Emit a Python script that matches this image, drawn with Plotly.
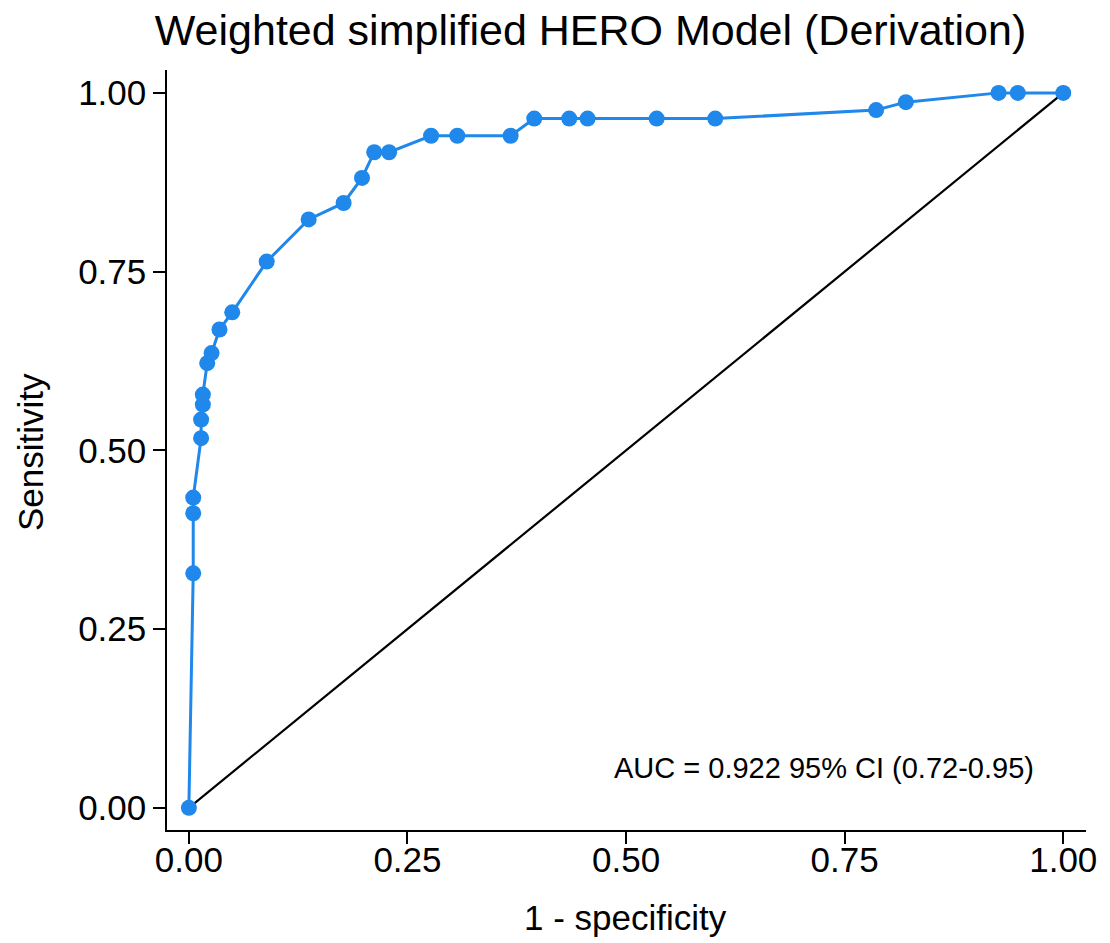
import plotly.graph_objects as go

# ROC curve points
fpr = [0.0, 0.005, 0.005, 0.005, 0.014, 0.014, 0.016, 0.016, 0.021, 0.026,
       0.035, 0.0496, 0.089, 0.137, 0.177, 0.198, 0.212, 0.229, 0.277, 0.307,
       0.368, 0.395, 0.435, 0.456, 0.535, 0.602, 0.786, 0.820, 0.926, 0.948, 1.0]
sensitivity = [0.0, 0.328, 0.412, 0.434, 0.517, 0.543, 0.564, 0.578, 0.622, 0.636,
               0.669, 0.693, 0.764, 0.823, 0.846, 0.881, 0.917, 0.917, 0.940, 0.940,
               0.940, 0.964, 0.964, 0.964, 0.964, 0.964, 0.976, 0.987, 1.0, 1.0, 1.0]

ref_x = [0, 1]
ref_y = [0, 1]

tick_vals = [0, 0.25, 0.5, 0.75, 1.0]
tick_text = ["0.00", "0.25", "0.50", "0.75", "1.00"]

title_text = "Weighted simplified HERO Model (Derivation)"
x_title = "1 - specificity"
y_title = "Sensitivity"
auc_text = "AUC = 0.922 95% CI (0.72-0.95)"

FONT = "Liberation Sans, Arial, Helvetica, sans-serif"
BLUE = "#1f88ea"

fig = go.Figure()
fig.add_trace(go.Scatter(x=ref_x, y=ref_y, mode="lines",
                         line=dict(color="black", width=2.2), hoverinfo="skip"))
fig.add_trace(go.Scatter(x=fpr, y=sensitivity, mode="lines+markers",
                         line=dict(color=BLUE, width=3),
                         marker=dict(color=BLUE, size=16)))

axis_common = dict(
    showgrid=False, zeroline=False, showline=True, linecolor="black", linewidth=1.5,
    ticks="outside", ticklen=12, tickwidth=1.5, tickcolor="black",
    tickvals=tick_vals, ticktext=tick_text, automargin=False,
    tickfont=dict(family=FONT, size=35, color="black"),
)

fig.update_layout(
    width=1110, height=943,
    paper_bgcolor="white", plot_bgcolor="white",
    showlegend=False,
    margin=dict(l=167, r=24, t=70, b=113),
    title=dict(text=title_text, x=0.532, xanchor="center", y=0.968, yanchor="middle",
               font=dict(family=FONT, size=43, color="black")),
    xaxis=dict(range=[-0.025, 1.026], ticklabelstandoff=-14, **axis_common),
    yaxis=dict(range=[-0.031, 1.032], **axis_common),
    annotations=[
        dict(text=auc_text, x=0.7265, y=0.056, xref="x", yref="y",
             xanchor="center", yanchor="middle", showarrow=False,
             font=dict(family=FONT, size=29, color="black")),
        dict(text=x_title, x=0.5, y=0.0, xref="paper", yref="paper",
             showarrow=False, xanchor="center", yanchor="middle",
             font=dict(family=FONT, size=35, color="black")),
        dict(text=y_title, x=0.0, y=0.5, xref="paper", yref="paper", textangle=-90,
             showarrow=False, xanchor="center", yanchor="middle",
             font=dict(family=FONT, size=35, color="black")),
    ],
)

# convert pixel-based annotation positions to paper coordinates
pw = 1110 - 167 - 24
ph = 943 - 70 - 113
anns = list(fig.layout.annotations)
anns[1].update(x=(625 - 167) / pw, y=(943 - 918 - 113) / ph)
anns[2].update(x=(30 - 167) / pw, y=(943 - 452 - 113) / ph)
fig.layout.annotations = anns

fig.write_html("out.html")
